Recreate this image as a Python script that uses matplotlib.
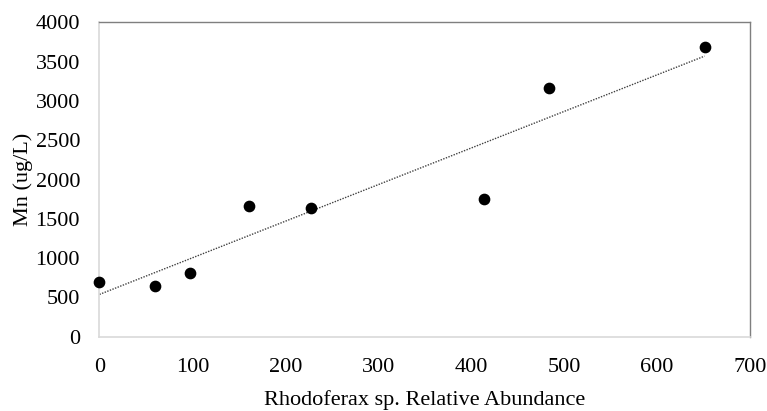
import matplotlib
matplotlib.use("Agg")
import matplotlib.pyplot as plt
import numpy as np

abundance = [0, 60, 97, 161, 228, 414, 484, 651]
mn = [700, 645, 814, 1663, 1641, 1748, 3168, 3682]
xticks = [0, 100, 200, 300, 400, 500, 600, 700]
yticks = [0, 500, 1000, 1500, 2000, 2500, 3000, 3500, 4000]

plt.rcParams['font.family'] = ['Liberation Serif', 'DejaVu Serif']

fig = plt.figure(figsize=(7.67, 4.11), dpi=100)
ax = fig.add_axes([0.1297, 0.1808, 0.978 - 0.1297, 0.9457 - 0.1808])

x = np.array(abundance, dtype=float)
y = np.array(mn, dtype=float)
slope, intercept = np.polyfit(x, y, 1)
xl = np.array([x.min(), x.max()])
ax.plot(xl, slope * xl + intercept, linestyle=(0, (1, 1)), color='#404040', linewidth=1.0, zorder=2)
ax.scatter(x, y, s=55, color='black', zorder=3, clip_on=False)

ax.set_xlim(0, 700)
ax.set_ylim(0, 4000)
ax.set_xticks(xticks)
ax.set_yticks(yticks)
ax.tick_params(length=0, labelsize=16, colors='black')
ax.tick_params(axis='x', pad=15)
ax.tick_params(axis='y', pad=14)

for s in ['left', 'bottom']:
    ax.spines[s].set_color('#d9d9d9')
    ax.spines[s].set_linewidth(1.2)
for s in ['top', 'right']:
    ax.spines[s].set_color('#7f7f7f')
    ax.spines[s].set_linewidth(1.0)

ax.set_xlabel('Rhodoferax sp. Relative Abundance', fontsize=16, labelpad=10)
ax.set_ylabel('Mn (ug/L)', fontsize=16, labelpad=2)

fig.savefig('out.png', dpi=100)
